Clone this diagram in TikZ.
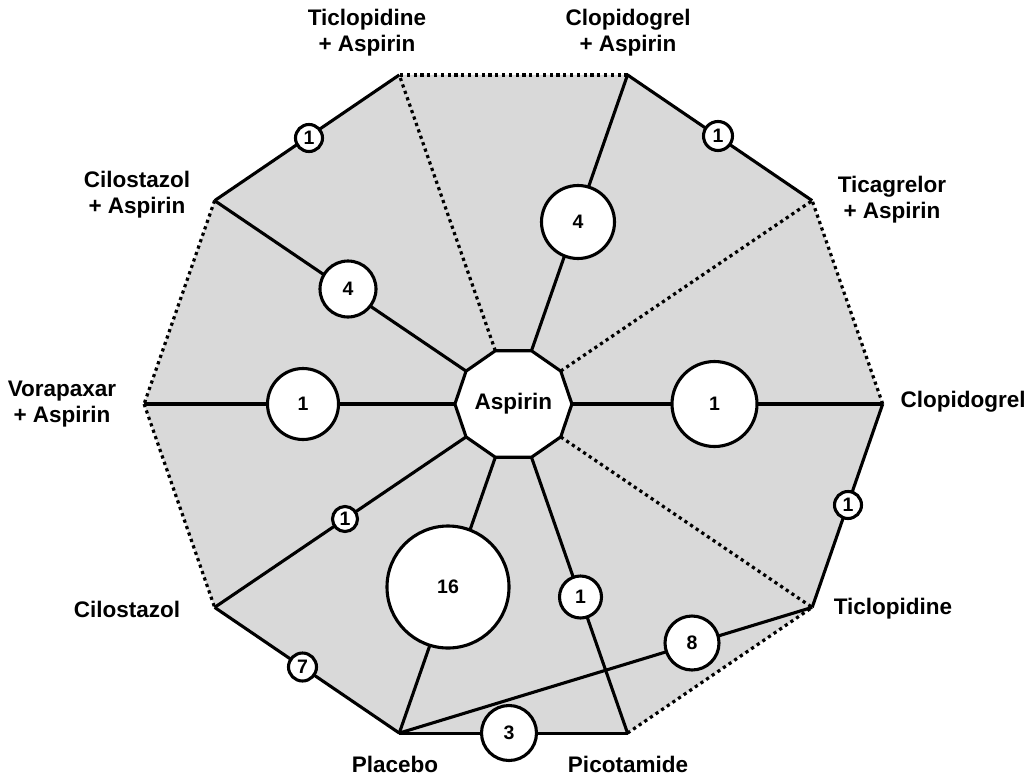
\documentclass[tikz,border=0pt]{standalone}
\usepackage{fontspec}
\setmainfont{Liberation Sans}
\definecolor{bg}{HTML}{D9D9D9}
\begin{document}
\begin{tikzpicture}[x=1pt,y=-1pt,
  edge/.style={line width=3.1pt},
  dotedge/.style={line width=3.2pt, dash pattern=on 3.2pt off 3.6pt},
  num/.style={circle,draw,fill=white,line width=3.1pt,inner sep=0pt,font=\fontsize{19.5}{19.5}\selectfont\bfseries},
  lab/.style={align=center,font=\fontsize{22.5}{26}\selectfont\bfseries}]
\useasboundingbox (0,0) rectangle (1032,776);
\foreach \k in {0,...,9} {
  \coordinate (o\k) at ({513.4+369.3*cos(36*\k)},{404-346*sin(36*\k)});
  \coordinate (a\k) at ({513.4+58.5*cos(36*\k)},{404-56*sin(36*\k)});
}
% background
\fill[bg] (o0) -- (o1) -- (o2) -- (o3) -- (o4) -- (o5) -- (o6) -- (o7) -- (o8) -- (o9) -- cycle;
% outer edges
\draw[dotedge] (o0) -- (o1);
\draw[edge] (o1) -- (o2);
\draw[dotedge] (o2) -- (o3);
\draw[edge] (o3) -- (o4);
\draw[dotedge] (o4) -- (o5);
\draw[dotedge] (o5) -- (o6);
\draw[edge] (o6) -- (o7);
\draw[edge] (o7) -- (o8);
\draw[dotedge] (o8) -- (o9);
\draw[edge] (o9) -- (o0);
\draw[edge] (o7) -- (o9);
% spokes
\foreach \k in {0,2,4,5,6,7,8} \draw[edge] (a\k) -- (o\k);
\foreach \k in {1,3,9} \draw[dotedge] (a\k) -- (o\k);
% centre
\filldraw[edge,fill=white] (a0) -- (a1) -- (a2) -- (a3) -- (a4) -- (a5) -- (a6) -- (a7) -- (a8) -- (a9) -- cycle;
\node[font=\fontsize{22.5}{26}\selectfont\bfseries] (asp) at (513.4,404) {Aspirin};
% numbered circles
\node[num,minimum size=29pt] (n1) at (718,136) {1};
\node[num,minimum size=27pt] (n2) at (309,138) {1};
\node[num,minimum size=27pt] (n3) at (848,505) {1};
\node[num,minimum size=28pt] (n4) at (302.5,667) {7};
\node[num,minimum size=55pt] (n5) at (509,733) {3};
\node[num,minimum size=54pt] (n6) at (692,643) {8};
\node[num,minimum size=73pt] (n7) at (578,222) {4};
\node[num,minimum size=56pt] (n8) at (348,289) {4};
\node[num,minimum size=71pt] (n9) at (303,404) {1};
\node[num,minimum size=85pt] (n10) at (714.5,404) {1};
\node[num,minimum size=25pt] (n11) at (345,519) {1};
\node[num,minimum size=122pt] (n12) at (448,587) {16};
\node[num,minimum size=42pt] (n13) at (580.5,597) {1};
% labels
\node[lab] (l3) at (367,33) {Ticlopidine\\+ Aspirin};
\node[lab] (l2) at (628,33) {Clopidogrel\\+ Aspirin};
\node[lab] (l1) at (892,200) {Ticagrelor\\+ Aspirin};
\node[lab] (l4) at (137,195) {Cilostazol\\+ Aspirin};
\node[lab] (l5) at (62,404) {Vorapaxar\\+ Aspirin};
\node[lab,anchor=west] (l0) at (897,402) {Clopidogrel};
\node[lab] (l9) at (893,609) {Ticlopidine};
\node[lab] (l6) at (127,609) {Cilostazol};
\node[lab] (l7) at (395,764) {Placebo};
\node[lab] (l8) at (628,764) {Picotamide};
\end{tikzpicture}
\end{document}
